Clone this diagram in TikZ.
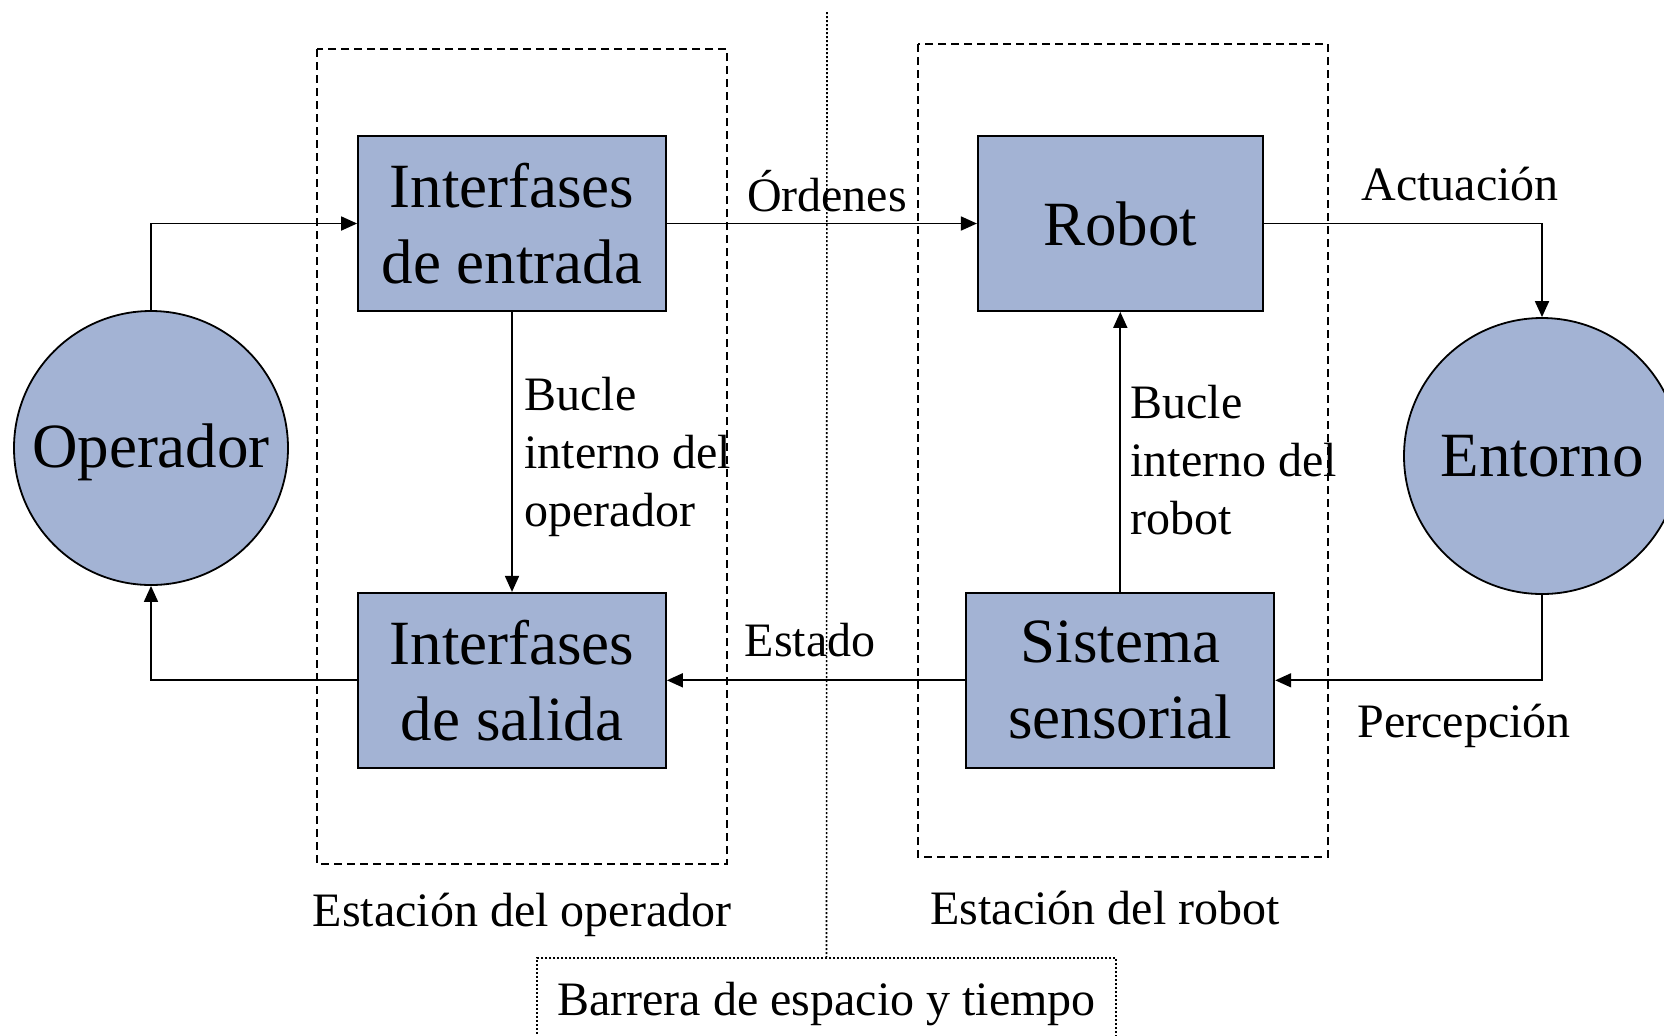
\documentclass[tikz,border=0pt]{standalone}
\usepackage{fontspec}
\setmainfont{Liberation Serif}
\usetikzlibrary{positioning,arrows.meta}
\definecolor{azul}{RGB}{163,179,212}

\begin{document}
\begin{tikzpicture}[x=0.5pt, y=-0.5pt, node distance={140pt and 155pt},
    bloque/.style = {draw, fill=azul, line width=0.9pt, minimum width=154pt, minimum height=87.5pt, inner sep=0pt, align=center, font=\fontsize{31.5}{38}\selectfont},
    actor/.style = {draw, fill=azul, circle, line width=0.9pt, minimum size=137pt, inner sep=0pt, font=\fontsize{31.5}{38}\selectfont},
    etiqueta/.style = {font=\fontsize{24}{29}\selectfont, align=left, inner sep=0pt},
    flecha/.style = {-{Triangle[length=8pt,width=7pt]}, line width=0.9pt},
    marco/.style = {line width=0.8pt, dash pattern=on 4pt off 2.5pt},
    punteado/.style = {line width=0.8pt, dash pattern=on 1pt off 1pt}]
                    \useasboundingbox (0,0) rectangle (1664,1035);

                    \draw[marco] (317,49) rectangle (727,864);
                    \draw[marco] (918,44) rectangle (1328,857);

                    \node[bloque] (ie) at (512,223.5) {Interfases\\de entrada};
                    \node[bloque, below=of ie] (is) {Interfases\\de salida};
                    \node[bloque, minimum width=142.5pt, right=of ie] (rob) {Robot};
                    \node[bloque, below=of rob] (ss) {Sistema\\sensorial};
                    \node[actor, text depth=2.8pt] (op) at (151,448) {Operador};
                    \node[actor, minimum size=138pt] (ent) at (1542,456) {Entorno};

                    \node[etiqueta] (ord) at (827,191) {Órdenes};
                    \node[etiqueta] (act) at (1460,184) {Actuación};
                    \node[etiqueta] (per) at (1464,726) {Percepción};
                    \node[etiqueta] (est) at (810,640) {Estado};
                    \node[etiqueta, anchor=west] (bop) at (524,457) {Bucle\\interno del\\operador};
                    \node[etiqueta, anchor=west] (brob) at (1130,460) {Bucle\\interno del\\robot};
                    \node[etiqueta] (eop) at (522,915) {Estación del operador};
                    \node[etiqueta] (erob) at (1105,908) {Estación del robot};
                    \node[etiqueta, draw, punteado, text depth=1.2pt, minimum width=289.5pt, minimum height=42pt] (barrera) at (826.5,1000) {Barrera de espacio y tiempo};

                    \draw[punteado] (827,12) -- (barrera.north);

                    \draw[flecha] (op.north) |- (ie.west);
                    \draw[flecha] (ie.east) -- (rob.west);
                    \draw[flecha] (rob.east) -| (ent.north);
                    \draw[flecha] (ent.south) |- (ss.east);
                    \draw[flecha] (ss.west) -- (is.east);
                    \draw[flecha] (is.west) -| (op.south);
                    \draw[flecha] (ie.south) -- (is.north);
                    \draw[flecha] (ss.north) -- (rob.south);
\end{tikzpicture}
\end{document}
